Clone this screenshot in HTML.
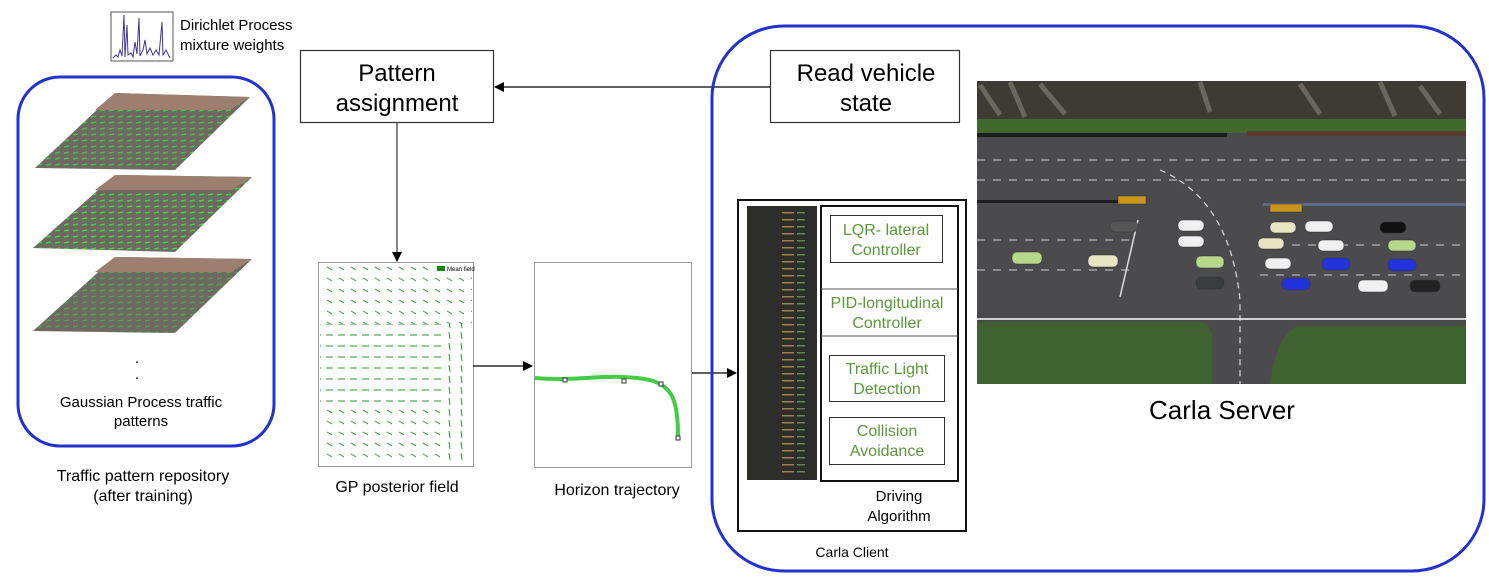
<!DOCTYPE html>
<html><head><meta charset="utf-8"><style>
body{margin:0;background:#fff;width:1489px;height:582px;overflow:hidden;font-family:"Liberation Sans",Arial,sans-serif}
</style></head><body>
<svg width="1489" height="582" viewBox="0 0 1489 582" xmlns="http://www.w3.org/2000/svg" font-family="Liberation Sans, Arial, sans-serif">
<defs>
<marker id="ah" markerWidth="10" markerHeight="10" refX="9" refY="5" orient="auto" markerUnits="userSpaceOnUse"><path d="M0,0 L10,5 L0,10 z" fill="#000"/></marker>
<pattern id="gp" width="12" height="11" patternUnits="userSpaceOnUse"><line x1="3" y1="3" x2="8" y2="6" stroke="#2a9a2a" stroke-width="1"/></pattern>
<pattern id="gp2" width="12" height="11" patternUnits="userSpaceOnUse"><line x1="2" y1="5" x2="9" y2="5" stroke="#2a9a2a" stroke-width="1"/></pattern>
<pattern id="gp3" width="12" height="11" patternUnits="userSpaceOnUse"><line x1="5" y1="2" x2="6" y2="9" stroke="#2a9a2a" stroke-width="1"/></pattern>
<pattern id="grn" width="9" height="6" patternUnits="userSpaceOnUse"><line x1="1" y1="3" x2="6" y2="2" stroke="#3ee03e" stroke-width="1.2"/></pattern>
<pattern id="code" width="70" height="7" patternUnits="userSpaceOnUse"><rect x="12" y="2" width="12" height="1.5" fill="#b89a55" opacity="0.8"/><rect x="27" y="2" width="8" height="1.5" fill="#8fbf6a" opacity="0.6"/></pattern>
</defs>

<!-- Left repository -->
<rect x="18" y="77" width="256" height="369" rx="42" fill="none" stroke="#2233cc" stroke-width="3"/>
<g>
 <polygon points="35,168 115,93 250,97 175,170" fill="#6d6a62"/>
 <polygon points="35,168 115,93 250,97 175,170" fill="url(#grn)" opacity="0.8"/>
 <polygon points="95,110 115,93 250,97 230,110" fill="#9c7f6e"/>
 <polygon points="33,248 115,175 252,177 175,252" fill="#6d6a62"/>
 <polygon points="33,248 115,175 252,177 175,252" fill="url(#grn)"/>
 <polygon points="95,190 115,175 252,177 232,190" fill="#9c7f6e"/>
 <polygon points="33,331 115,257 252,259 175,333" fill="#6d6a62"/>
 <polygon points="33,331 115,257 252,259 175,333" fill="url(#grn)" opacity="0.5"/>
 <polygon points="95,272 115,257 252,259 232,272" fill="#9c7f6e"/>
</g>
<text x="137" y="363" font-size="15" text-anchor="middle">.</text>
<text x="137" y="379" font-size="15" text-anchor="middle">.</text>
<text x="141" y="407" font-size="15" text-anchor="middle">Gaussian Process traffic</text>
<text x="141" y="426" font-size="15" text-anchor="middle">patterns</text>
<text x="143" y="481" font-size="16" text-anchor="middle">Traffic pattern repository</text>
<text x="143" y="501" font-size="16" text-anchor="middle">(after training)</text>

<!-- DP icon -->
<rect x="111" y="12" width="62" height="49" fill="#fff" stroke="#555" stroke-width="1"/>
<path d="M113,58 L116,55 L118,57 L120,50 L122,56 L124,15 L125,57 L127,25 L128,55 L131,53 L133,57 L135,42 L137,54 L139,18 L140,56 L143,50 L145,40 L147,54 L150,48 L153,55 L156,50 L159,55 L162,22 L163,55 L166,50 L170,58" fill="none" stroke="#443399" stroke-width="1"/>
<text x="180" y="30" font-size="15">Dirichlet Process</text>
<text x="180" y="50" font-size="15">mixture weights</text>

<!-- Pattern assignment -->
<rect x="300.5" y="50.5" width="193" height="72" fill="#fff" stroke="#333" stroke-width="1.2"/>
<text x="397" y="81" font-size="24" text-anchor="middle">Pattern</text>
<text x="397" y="111" font-size="24" text-anchor="middle">assignment</text>
<line x1="770" y1="87" x2="495" y2="87" stroke="#000" stroke-width="1.2" marker-end="url(#ah)"/>
<line x1="397" y1="123" x2="397" y2="261" stroke="#333" stroke-width="1.2" marker-end="url(#ah)"/>

<!-- GP field -->
<rect x="318.5" y="262.5" width="155" height="204" fill="#fff" stroke="#999" stroke-width="1"/>
<rect x="320" y="264" width="152" height="60" fill="url(#gp)"/>
<rect x="320" y="324" width="125" height="80" fill="url(#gp2)"/>
<rect x="320" y="404" width="125" height="60" fill="url(#gp)"/>
<rect x="445" y="324" width="27" height="140" fill="url(#gp3)"/>
<rect x="434" y="264" width="38" height="10" fill="#fff"/>
<rect x="437" y="266" width="8" height="5" fill="#118811"/>
<text x="447" y="271" font-size="6">Mean field</text>
<text x="397" y="492" font-size="16" text-anchor="middle">GP posterior field</text>
<line x1="473" y1="366" x2="532" y2="366" stroke="#000" stroke-width="1.2" marker-end="url(#ah)"/>

<!-- Horizon -->
<rect x="534.5" y="262.5" width="157" height="205" fill="#fff" stroke="#999" stroke-width="1"/>
<path d="M535,378 C580,382 610,372 650,380 C672,386 678,400 678,436" fill="none" stroke="#44cc44" stroke-width="4"/>
<g fill="#fff" stroke="#333" stroke-width="1"><rect x="563" y="378" width="4" height="4"/><rect x="622" y="379" width="4" height="4"/><rect x="659" y="382" width="4" height="4"/><rect x="676" y="436" width="4" height="4"/></g>
<text x="617" y="495" font-size="16" text-anchor="middle">Horizon trajectory</text>
<line x1="692" y1="373" x2="736" y2="373" stroke="#000" stroke-width="1.2" marker-end="url(#ah)"/>

<!-- Right big box -->
<rect x="712" y="26" width="772" height="545" rx="72" fill="none" stroke="#2233cc" stroke-width="3"/>
<rect x="770.5" y="50.5" width="189" height="72" fill="#fff" stroke="#333" stroke-width="1.2"/>
<text x="866" y="81" font-size="24" text-anchor="middle">Read vehicle</text>
<text x="866" y="111" font-size="24" text-anchor="middle">state</text>

<!-- Carla client -->
<rect x="738" y="200" width="228" height="331" fill="#fff" stroke="#111" stroke-width="2"/>
<rect x="747" y="206" width="70" height="274" fill="#2d2d2a"/>
<rect x="747" y="208" width="70" height="270" fill="url(#code)"/>
<rect x="821" y="206" width="137" height="275" fill="#fff" stroke="#111" stroke-width="2"/>
<line x1="821" y1="289" x2="958" y2="289" stroke="#555" stroke-width="1"/>
<line x1="821" y1="336" x2="958" y2="336" stroke="#555" stroke-width="1"/>
<g fill="none" stroke="#333" stroke-width="1"><rect x="830.5" y="215.5" width="112" height="47"/><rect x="829.5" y="355.5" width="115" height="46"/><rect x="829.5" y="417.5" width="115" height="47"/></g>
<g fill="#5a9a3a" font-size="16" text-anchor="middle">
<text x="886" y="235">LQR- lateral</text><text x="886" y="255">Controller</text>
<text x="887" y="308">PID-longitudinal</text><text x="887" y="328">Controller</text>
<text x="887" y="374">Traffic Light</text><text x="887" y="394">Detection</text>
<text x="887" y="436">Collision</text><text x="887" y="456">Avoidance</text>
</g>
<text x="899" y="501" font-size="15" text-anchor="middle">Driving</text>
<text x="899" y="521" font-size="15" text-anchor="middle">Algorithm</text>
<text x="852" y="557" font-size="14" text-anchor="middle">Carla Client</text>

<!-- Carla server image -->
<g>
<rect x="977" y="81" width="489" height="303" fill="#4b4b4e"/>
<rect x="977" y="81" width="489" height="38" fill="#3e3b35"/>
<path d="M980,85 l20,30 M1010,82 l15,35 M1040,84 l25,30 M1200,82 l10,30 M1300,84 l20,30 M1380,82 l15,34 M1420,86 l20,28" stroke="#6a665e" stroke-width="5"/>
<rect x="977" y="119" width="489" height="14" fill="#3f6a2c"/>
<rect x="977" y="133" width="250" height="4" fill="#1e1e22"/>
<rect x="1247" y="131" width="219" height="5" fill="#5a3a2c"/>
<rect x="977" y="318" width="489" height="2" fill="#cfcfcf"/>
<path d="M977,322 L1200,322 Q1212,324 1212,340 L1212,384 L977,384 Z" fill="#3f6330"/>
<path d="M1466,326 L1300,326 Q1278,330 1270,384 L1466,384 Z" fill="#3f6330"/>
<rect x="977" y="200" width="150" height="3" fill="#1e1e22"/>
<rect x="1263" y="203" width="203" height="3" fill="#5a6a88"/>
<g stroke="#cfcfcf" stroke-width="1" stroke-dasharray="8,8"><line x1="977" y1="160" x2="1466" y2="160"/><line x1="977" y1="180" x2="1466" y2="180"/><line x1="977" y1="240" x2="1130" y2="240"/><line x1="977" y1="270" x2="1130" y2="270"/><line x1="1260" y1="245" x2="1466" y2="245"/><line x1="1260" y1="275" x2="1466" y2="275"/></g>
<path d="M1160,170 Q1230,200 1240,300 L1240,384" fill="none" stroke="#ddd" stroke-width="1.2" stroke-dasharray="6,5"/>
<line x1="1138" y1="220" x2="1120" y2="297" stroke="#ddd" stroke-width="1.5"/>
<g stroke="#333" stroke-width="0.5">
<rect x="1012" y="252" width="30" height="12" rx="5" fill="#b6d88a"/>
<rect x="1088" y="255" width="30" height="12" rx="5" fill="#e8e6c2"/>
<rect x="1110" y="221" width="28" height="11" rx="5" fill="#555"/>
<rect x="1178" y="220" width="26" height="11" rx="5" fill="#f0f0f0"/>
<rect x="1178" y="236" width="26" height="11" rx="5" fill="#f0f0f0"/>
<rect x="1196" y="256" width="28" height="12" rx="5" fill="#b6d88a"/>
<rect x="1196" y="277" width="28" height="12" rx="5" fill="#3a3d3d"/>
<rect x="1270" y="222" width="26" height="11" rx="5" fill="#e8e6c2"/>
<rect x="1258" y="238" width="26" height="11" rx="5" fill="#e8e6c2"/>
<rect x="1265" y="258" width="26" height="11" rx="5" fill="#f0f0f0"/>
<rect x="1282" y="278" width="28" height="12" rx="5" fill="#2233dd"/>
<rect x="1305" y="221" width="28" height="11" rx="5" fill="#f0f0f0"/>
<rect x="1318" y="240" width="26" height="11" rx="5" fill="#f0f0f0"/>
<rect x="1322" y="258" width="28" height="12" rx="5" fill="#2233dd"/>
<rect x="1380" y="222" width="26" height="11" rx="5" fill="#111"/>
<rect x="1388" y="240" width="28" height="11" rx="5" fill="#b6d88a"/>
<rect x="1388" y="259" width="28" height="12" rx="5" fill="#2233dd"/>
<rect x="1358" y="280" width="30" height="12" rx="5" fill="#f0f0f0"/>
<rect x="1410" y="280" width="30" height="12" rx="5" fill="#222"/>
<rect x="1118" y="196" width="28" height="8" fill="#c8941e"/>
<rect x="1270" y="204" width="32" height="8" fill="#c8941e"/>
</g>
</g>
<text x="1222" y="419" font-size="26" text-anchor="middle">Carla Server</text>
</svg>
</body></html>
